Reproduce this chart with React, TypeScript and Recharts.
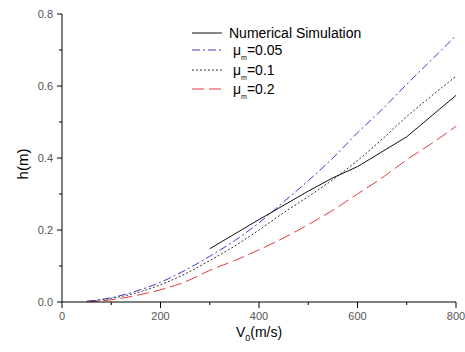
import React from "react";
import { LineChart, Line, XAxis, YAxis, Label } from "recharts";

// Tick values
const xTicks = [0, 100, 200, 300, 400, 500, 600, 700, 800];
const yTicks = [0, 0.1, 0.2, 0.3, 0.4, 0.5, 0.6, 0.7, 0.8];

// Numerical simulation
const simV = [300, 400, 500, 550, 600, 700, 800];
const simH = [0.148, 0.229, 0.308, 0.345, 0.376, 0.459, 0.574];

// Model curves (velocity grid)
const modelV = [50, 100, 150, 200, 250, 300, 350, 400, 450, 500, 550, 600, 650, 700, 750, 800];
const mu005 = [0.002, 0.012, 0.03, 0.055, 0.088, 0.127, 0.17, 0.22, 0.278, 0.337, 0.4, 0.47, 0.535, 0.605, 0.672, 0.74];
const mu01 = [0.001, 0.01, 0.025, 0.048, 0.078, 0.115, 0.155, 0.2, 0.248, 0.293, 0.34, 0.393, 0.452, 0.515, 0.572, 0.627];
const mu02 = [0.0, 0.006, 0.018, 0.034, 0.056, 0.088, 0.115, 0.145, 0.178, 0.215, 0.255, 0.3, 0.345, 0.395, 0.44, 0.488];

const simData = simV.map((v, i) => ({ v, h: simH[i] }));
const d005 = modelV.map((v, i) => ({ v, h: mu005[i] }));
const d01 = modelV.map((v, i) => ({ v, h: mu01[i] }));
const d02 = modelV.map((v, i) => ({ v, h: mu02[i] }));

const FONT = "'Liberation Sans', Arial, sans-serif";
const BLUE = "#3b3bd0";
const RED = "#e53a3a";
const DOT = "#333333";

const XTick = (props: any) => {
  const { x, y, payload } = props;
  const v = payload.value;
  const major = v % 200 === 0;
  return (
    <g>
      <line x1={x} y1={y} x2={x} y2={y + (major ? 6 : 3)} stroke="#000" strokeWidth={1} />
      {major && (
        <text x={x} y={y + 18} textAnchor="middle" fontSize={11} fill="#555" fontFamily={FONT}>
          {v}
        </text>
      )}
    </g>
  );
};

const YTick = (props: any) => {
  const { x, y, payload } = props;
  const v = payload.value;
  const major = Math.round(v * 10) % 2 === 0;
  return (
    <g>
      <line x1={x} y1={y} x2={x - (major ? 5 : 3)} y2={y} stroke="#000" strokeWidth={1} />
      {major && (
        <text x={x - 9} y={y + 4} textAnchor="end" fontSize={11} fill="#555" fontFamily={FONT}>
          {v.toFixed(1)}
        </text>
      )}
    </g>
  );
};

const XTitle = (props: any) => {
  const vb = props.viewBox || {};
  const cx = vb.x + vb.width / 2;
  const by = vb.y + 35;
  return (
    <text x={cx} y={by} textAnchor="middle" fontSize={14} fill="#000" fontFamily={FONT}>
      V
      <tspan fontSize={9} dy={4}>0</tspan>
      <tspan dy={-4}>(m/s)</tspan>
    </text>
  );
};

const YTitle = (props: any) => {
  const cx = 22;
  const cy = 164;
  return (
    <text
      x={cx}
      y={cy}
      transform={`rotate(-90 ${cx} ${cy})`}
      textAnchor="middle"
      dominantBaseline="central"
      fontSize={15}
      fill="#000"
      fontFamily={FONT}
    >
      h(m)
    </text>
  );
};

const LegendBox = () => {
  const rows = [
    { y: 13, stroke: "#111", dash: undefined as string | undefined, label: null as any },
    { y: 30, stroke: BLUE, dash: "8 3 2 3", label: "0.05" },
    { y: 50, stroke: DOT, dash: "2 2", label: "0.1" },
    { y: 69, stroke: RED, dash: "12 5", label: "0.2" },
  ];
  return (
    <svg
      width={200}
      height={90}
      style={{ position: "absolute", left: 185, top: 20, overflow: "visible" }}
    >
      {rows.map((r, i) => (
        <g key={i}>
          <line x1={7} y1={r.y} x2={37} y2={r.y} stroke={r.stroke} strokeWidth={1} strokeDasharray={r.dash} />
          {i === 0 ? (
            <text x={44} y={r.y + 5} fontSize={14} fill="#000" fontFamily={FONT}>
              Numerical Simulation
            </text>
          ) : (
            <text x={48} y={r.y + 5} fontSize={14} fill="#000" fontFamily={FONT}>
              μ
              <tspan fontSize={7} dy={5}>m</tspan>
              <tspan dy={-5}>{"=" + r.label}</tspan>
            </text>
          )}
        </g>
      ))}
    </svg>
  );
};

export default function App() {
  return (
    <div style={{ position: "absolute", left: 0, top: 0, width: 465, height: 352, background: "#fff" }}>
      <LineChart width={465} height={352} margin={{ top: 14, right: 9, bottom: 0, left: 0 }}>
        <XAxis
          type="number"
          dataKey="v"
          domain={[0, 800]}
          ticks={xTicks}
          height={50}
          tick={<XTick />}
          tickLine={false}
          tickSize={0}
          tickMargin={0}
          axisLine={{ stroke: "#000", strokeWidth: 1 }}
          allowDataOverflow
          interval={0}
        >
          <Label content={<XTitle />} />
        </XAxis>
        <YAxis
          type="number"
          dataKey="h"
          domain={[0, 0.8]}
          ticks={yTicks}
          width={62}
          tick={<YTick />}
          tickLine={false}
          tickSize={0}
          tickMargin={0}
          axisLine={{ stroke: "#000", strokeWidth: 1 }}
          allowDataOverflow
          interval={0}
        >
          <Label content={<YTitle />} />
        </YAxis>
        <Line data={d005} dataKey="h" type="monotone" stroke={BLUE} strokeWidth={1} strokeDasharray="8 3 2 3" dot={false} isAnimationActive={false} />
        <Line data={d01} dataKey="h" type="monotone" stroke={DOT} strokeWidth={1} strokeDasharray="2 2" dot={false} isAnimationActive={false} />
        <Line data={d02} dataKey="h" type="monotone" stroke={RED} strokeWidth={1} strokeDasharray="12 5" dot={false} isAnimationActive={false} />
        <Line data={simData} dataKey="h" type="linear" stroke="#111" strokeWidth={1} dot={false} isAnimationActive={false} />
      </LineChart>
      <LegendBox />
    </div>
  );
}
